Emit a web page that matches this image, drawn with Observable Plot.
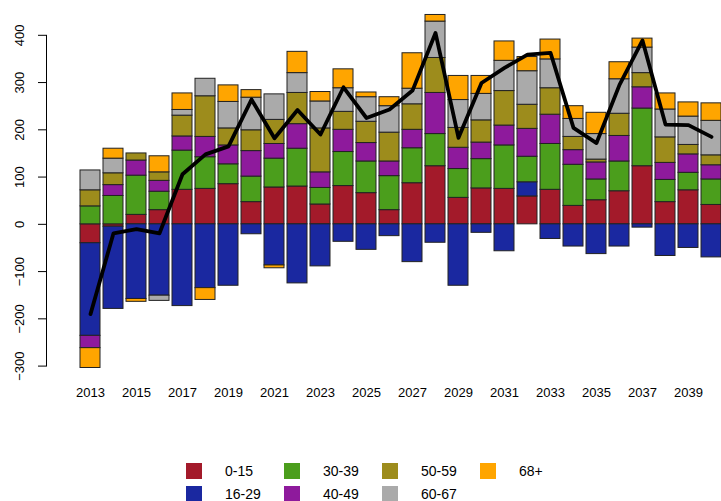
<!DOCTYPE html>
<html><head><meta charset="utf-8">
<script src="https://cdn.jsdelivr.net/npm/d3@7"></script>
<script src="https://cdn.jsdelivr.net/npm/@observablehq/plot@0.6"></script>
<style>
body{margin:0;background:#fff;font-family:"Liberation Sans",Arial,sans-serif;}
#wrap{position:relative;width:721px;height:501px;overflow:hidden;background:#fff;}
#legend{position:absolute;left:186px;top:459px;display:grid;grid-template-rows:repeat(2,23px);grid-auto-flow:column;grid-template-columns:repeat(4,98px);font-size:14px;color:#000;}
.item{display:flex;align-items:center;height:23px;white-space:nowrap;}
.sw{width:16px;height:16px;margin-right:23px;flex:none;}
</style></head>
<body><div id="wrap"><div id="chart"></div><div id="legend"></div></div>
<script>
const years = [2013,2014,2015,2016,2017,2018,2019,2020,2021,2022,2023,2024,2025,2026,2027,2028,2029,2030,2031,2032,2033,2034,2035,2036,2037,2038,2039,2040];
const xTickLabels = [2013,2015,2017,2019,2021,2023,2025,2027,2029,2031,2033,2035,2037,2039];
const yTicks = [-300,-200,-100,0,100,200,300,400];
const groups = ["0-15","16-29","30-39","40-49","50-59","60-67","68+"];
const colors = ["#A31A2A","#1A28A0","#4B9E1C","#8E1A9C","#9D8C1C","#AAAAAA","#FFA500"];

const age0_15  = [-40,-5,20,30,73,75,85,47,78,80,42,81,66,30,87,123,56,76,75,59,73,39,51,70,123,47,72,41];
const age16_29 = [-196,-174,-158,-151,-173,-135,-130,-21,-87,-125,-89,-37,-54,-25,-80,-39,-130,-18,-57,30,-31,-47,-63,-47,-7,-67,-50,-70];
const age30_39 = [38,60,83,39,83,67,42,54,61,80,35,72,67,72,74,68,61,62,92,54,97,87,44,63,122,47,37,54];
const age40_49 = [-26,23,32,23,30,43,40,54,31,52,33,47,39,31,39,87,45,35,42,59,62,31,36,54,45,36,39,30];
const age50_59 = [34,25,15,18,44,86,36,44,51,66,93,38,45,61,54,74,42,47,73,51,56,28,6,47,30,54,20,21];
const age60_67 = [42,31,0,-11,12,37,56,69,54,42,57,50,52,56,33,77,59,56,64,71,61,38,54,73,54,59,60,73];
const age68plus = [-42,21,-6,34,35,-25,35,16,-6,45,20,40,10,19,75,14,51,38,41,30,42,27,45,36,19,34,30,37];
const netTotal = [-190,-19,-10,-19,106,148,165,264,182,242,190,290,225,243,283,405,183,299,331,359,363,204,172,295,389,211,210,185];

const series = [age0_15, age16_29, age30_39, age40_49, age50_59, age60_67, age68plus];
const rows = years.flatMap((yr, i) => groups.map((g, j) => ({year: yr, group: g, value: series[j][i]})))
  .filter(d => d.value !== 0);
const lineData = years.map((yr, i) => ({year: yr, net: netTotal[i]}));

const H = 445;
const chart = Plot.plot({
  width: 721,
  height: H,
  marginTop: 34.8,
  marginBottom: H - 365.6,
  marginLeft: 46,
  marginRight: 0,
  style: {fontSize: "13px", fontFamily: "'Liberation Sans', Arial, sans-serif", color: "#000", background: "#fff"},
  x: {type: "band", domain: years, range: [69.2, 730.7], padding: 0.15, ticks: xTickLabels, tickSize: 0, tickPadding: 22, label: null, tickFormat: d => String(d)},
  y: {domain: [-300, 400], ticks: yTicks, tickSize: 8, tickRotate: -90, tickPadding: 15, line: true, label: null},
  color: {domain: groups, range: colors},
  marks: [
    Plot.barY(rows, {x: "year", y: "value", fill: "group", stroke: "#222", strokeWidth: 1}),
    Plot.line(lineData, {x: "year", y: "net", stroke: "#000", strokeWidth: 3.8, strokeLinejoin: "round"})
  ]
});
document.getElementById("chart").appendChild(chart);

const legend = document.getElementById("legend");
groups.forEach((g, j) => {
  const item = document.createElement("div");
  item.className = "item";
  const sw = document.createElement("span");
  sw.className = "sw";
  sw.style.background = colors[j];
  const lab = document.createElement("span");
  lab.textContent = g;
  item.appendChild(sw);
  item.appendChild(lab);
  legend.appendChild(item);
});
</script>
</body></html>
